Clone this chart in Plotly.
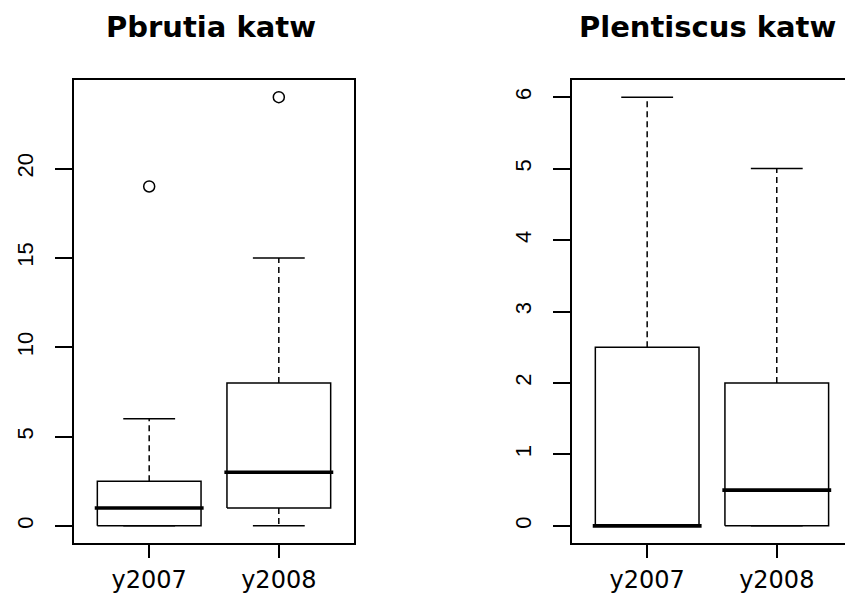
import plotly.graph_objects as go

# ---- data ----
categories = ["y2007", "y2008"]
positions = [1, 2]

pbrutia_lower = [0, 0]
pbrutia_q1 = [0, 1]
pbrutia_median = [1, 3]
pbrutia_q3 = [2.5, 8]
pbrutia_upper = [6, 15]
pbrutia_outliers = [[19], [24]]

plent_lower = [0, 0]
plent_q1 = [0, 0]
plent_median = [0, 0.5]
plent_q3 = [2.5, 2]
plent_upper = [6, 5]
plent_outliers = [[], []]

pbrutia_yticks = [0, 5, 10, 15, 20]
plent_yticks = [0, 1, 2, 3, 4, 5, 6]

W, H = 845, 597
BOX_HALF = 0.4
CAP_HALF = 0.2
LW = 1.5

fig = go.Figure()


def add_boxes(xa, ya, lower, q1, med, q3, upper, outl):
    for p, lo, a, m, b, up, out in zip(positions, lower, q1, med, q3, upper, outl):
        # whiskers (dashed)
        fig.add_trace(go.Scatter(x=[p, p, None, p, p], y=[b, up, None, a, lo],
                                 mode="lines", line=dict(color="black", width=LW, dash="6px,4px"),
                                 xaxis=xa, yaxis=ya, showlegend=False, hoverinfo="skip"))
        # caps
        fig.add_trace(go.Scatter(x=[p - CAP_HALF, p + CAP_HALF, None, p - CAP_HALF, p + CAP_HALF],
                                 y=[up, up, None, lo, lo],
                                 mode="lines", line=dict(color="black", width=LW),
                                 xaxis=xa, yaxis=ya, showlegend=False, hoverinfo="skip"))
        # box
        fig.add_trace(go.Scatter(x=[p - BOX_HALF, p + BOX_HALF, p + BOX_HALF, p - BOX_HALF, p - BOX_HALF],
                                 y=[a, a, b, b, a], mode="lines",
                                 line=dict(color="black", width=LW),
                                 xaxis=xa, yaxis=ya, showlegend=False, hoverinfo="skip"))
        # median
        fig.add_trace(go.Scatter(x=[p - BOX_HALF - 0.02, p + BOX_HALF + 0.02], y=[m, m], mode="lines",
                                 line=dict(color="black", width=3.6),
                                 xaxis=xa, yaxis=ya, showlegend=False, hoverinfo="skip"))
        if out:
            fig.add_trace(go.Scatter(x=[p] * len(out), y=out, mode="markers",
                                     marker=dict(symbol="circle-open", size=11, color="black",
                                                 line=dict(width=1.5)),
                                     xaxis=xa, yaxis=ya, showlegend=False, hoverinfo="skip"))


add_boxes("x", "y", pbrutia_lower, pbrutia_q1, pbrutia_median, pbrutia_q3, pbrutia_upper, pbrutia_outliers)
add_boxes("x2", "y2", plent_lower, plent_q1, plent_median, plent_q3, plent_upper, plent_outliers)

ydom = [(H - 543) / H, (H - 80) / H]
xtick_font = dict(family="DejaVu Sans", size=24, color="black")
ytick_font = dict(family="Liberation Sans", size=22, color="black")

common_x = dict(tickmode="array", tickvals=positions, ticktext=categories,
                showline=True, linecolor="black", linewidth=1.5, ticks="outside",
                ticklen=13, tickwidth=1.5, tickcolor="black", showgrid=False,
                zeroline=False, tickfont=xtick_font, ticklabelstandoff=1, fixedrange=True)
common_y = dict(showline=True, linecolor="black", linewidth=1.5, ticks="outside",
                ticklen=17, tickwidth=1.5, tickcolor="black", showgrid=False,
                zeroline=False, tickfont=ytick_font, tickangle=-90, ticklabelstandoff=13,
                fixedrange=True)

fig.update_layout(
    width=W, height=H,
    margin=dict(l=0, r=0, t=0, b=0),
    paper_bgcolor="white", plot_bgcolor="white",
    showlegend=False,
    xaxis=dict(domain=[74 / W, 354 / W], range=[0.42, 2.58], mirror=True, anchor="y", **common_x),
    yaxis=dict(domain=ydom, range=[-0.96, 24.96], tickvals=pbrutia_yticks, mirror=True,
               anchor="x", **common_y),
    xaxis2=dict(domain=[572 / W, 1.0], range=[0.42, 0.42 + (W - 572) / 129.6], mirror=True,
                anchor="y2", **common_x),
    yaxis2=dict(domain=ydom, range=[-0.24, 6.24], tickvals=plent_yticks, anchor="x2", **common_y),
    annotations=[
        dict(text="Pbrutia katw", x=211 / W, y=1 - 27 / H, xref="paper", yref="paper",
             showarrow=False, xanchor="center", yanchor="middle",
             font=dict(family="DejaVu Sans", size=29, color="black", weight="bold")),
        dict(text="Plentiscus katw", x=707 / W, y=1 - 27 / H, xref="paper", yref="paper",
             showarrow=False, xanchor="center", yanchor="middle",
             font=dict(family="DejaVu Sans", size=29, color="black", weight="bold")),
    ],
)

fig.write_html("out.html", config={"displayModeBar": False},
               post_script="document.body.style.margin='0';document.body.style.padding='0';")
